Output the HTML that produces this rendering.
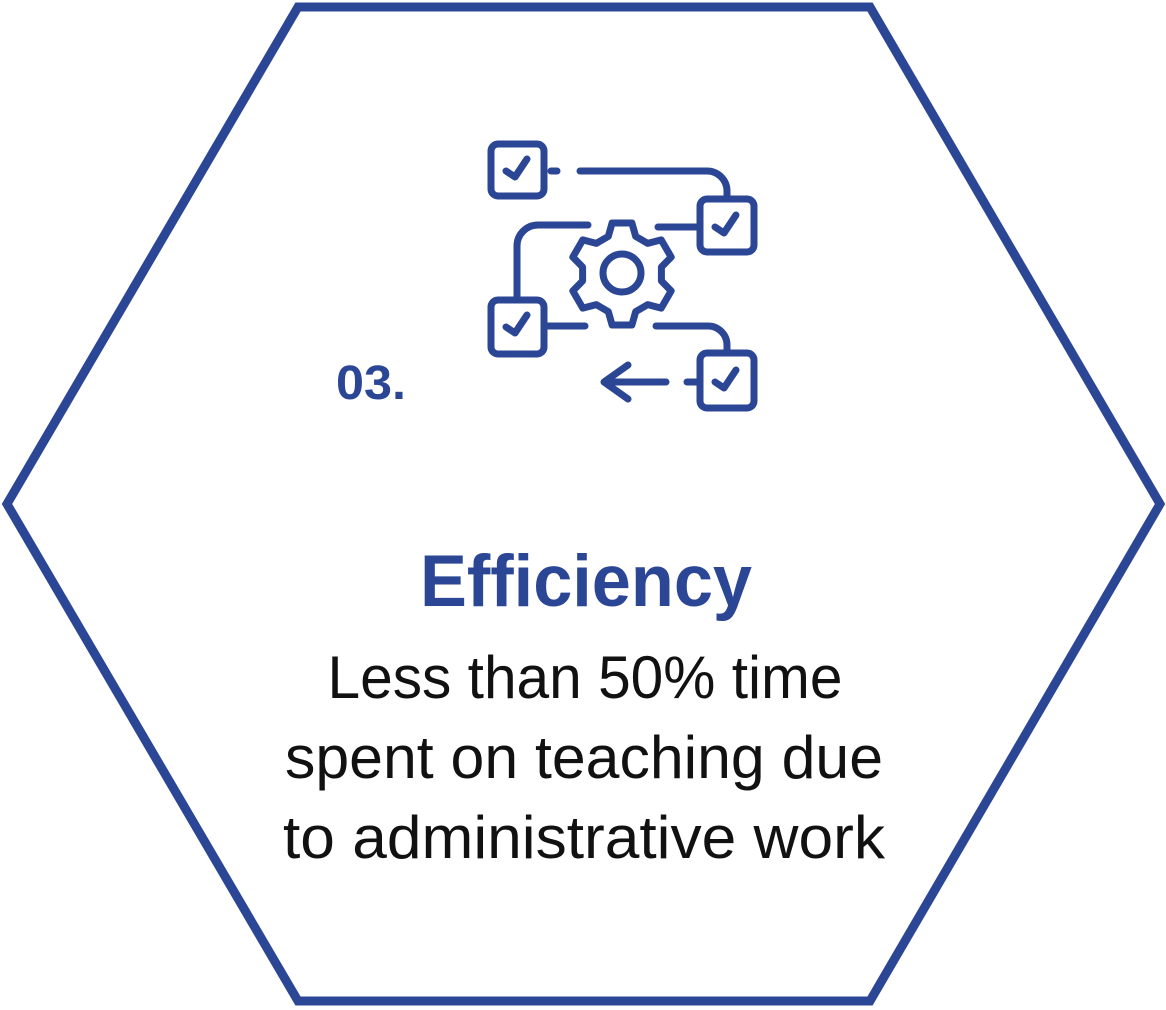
<!DOCTYPE html>
<html><head><meta charset="utf-8"><style>
html,body{margin:0;padding:0;background:#fff;}
svg{display:block}
</style></head><body>
<svg width="1166" height="1010" viewBox="0 0 1166 1010">
<polygon points="298,7 870,7 1160,504 870,1001 298,1001 7,504" fill="#fff" stroke="#2c4696" stroke-width="9" stroke-linejoin="miter"/>
<g fill="none" stroke="#2c4696" stroke-width="7" stroke-linecap="round" stroke-linejoin="round">
  <rect x="491" y="144" width="53" height="52" rx="7"/>
  <path d="M506,171 l9,6 l12,-18"/>
  <rect x="700" y="199" width="54" height="53" rx="7"/>
  <path d="M715,227 l9,6 l12,-18"/>
  <rect x="491" y="300" width="53" height="54" rx="7"/>
  <path d="M506,327 l9,6 l12,-18"/>
  <rect x="700" y="353" width="54" height="55" rx="7"/>
  <path d="M715,382 l9,6 l12,-18"/>
  <path d="M551,171 h6 M580,171 h127 a20,20 0 0 1 20,20 v5"/>
  <path d="M658,227 h40"/>
  <path d="M588,225 h-50 a21,21 0 0 0 -21,21 v51"/>
  <path d="M547,326 h38"/>
  <path d="M656,326 h52 a19,19 0 0 1 19,19 v5"/>
  <path d="M606,382 h60 M628,365 l-24,17 l24,17 M687,382 h10"/>
  <path id="gear" d=""/>
  <circle cx="622" cy="273" r="19"/>
</g>
<text x="336" y="399" font-family="'Liberation Sans',sans-serif" font-weight="bold" font-size="48" fill="#2c4696" textLength="70" lengthAdjust="spacingAndGlyphs">03.</text>
<text x="586" y="606" text-anchor="middle" font-family="'Liberation Sans',sans-serif" font-weight="bold" font-size="73" fill="#2c4696" textLength="332" lengthAdjust="spacingAndGlyphs">Efficiency</text>
<g font-family="'Liberation Sans',sans-serif" font-size="60" fill="#111" text-anchor="middle">
<text x="585" y="698" textLength="515" lengthAdjust="spacingAndGlyphs">Less than 50% time</text>
<text x="584" y="778" textLength="598" lengthAdjust="spacingAndGlyphs">spent on teaching due</text>
<text x="584" y="858" textLength="602" lengthAdjust="spacingAndGlyphs">to administrative work</text>
</g>
</svg>
<script>
const cx=622, cy=274, rO=52, rI=40;
let d="";
for(let i=0;i<6;i++){
  const a=(-90+i*60)*Math.PI/180, hw=11*Math.PI/180, bw=20*Math.PI/180;
  const pts=[[rI,a-bw],[rO,a-hw],[rO,a+hw],[rI,a+bw]];
  pts.forEach((p,j)=>{const x=cx+p[0]*Math.cos(p[1]),y=cy+p[0]*Math.sin(p[1]);d+=(i==0&&j==0?"M":"L")+x.toFixed(1)+","+y.toFixed(1)+" ";});
}
document.getElementById('gear').setAttribute('d',d+"Z");
</script>
</body></html>
